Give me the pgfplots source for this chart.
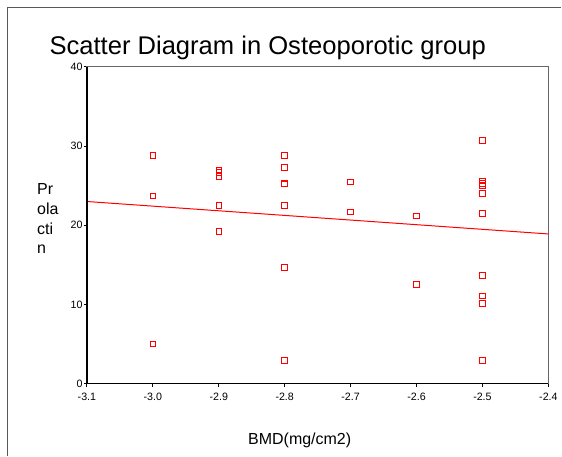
\documentclass[border=0pt]{standalone}
\usepackage{fontspec}
\setmainfont{Liberation Sans}
\usepackage{pgfplots}
\pgfplotsset{compat=1.18}
\definecolor{spssred}{HTML}{FF0000}

\begin{document}
\begin{tikzpicture}
% page = 562 x 457 px, 1 px = 0.75pt, origin top left
\begin{scope}[x=0.75pt,y=-0.75pt]
  \useasboundingbox (0,0) rectangle (562,457);
  \draw[black!65,line width=0.75pt] (8,457) -- (8,8) -- (562,8);
  \node[anchor=base,font=\fontsize{19.2}{22}\selectfont] at (268,55) {Scatter Diagram in Osteoporotic group};
  \node[anchor=north west,align=left,inner sep=0pt,font=\fontsize{12}{15}\selectfont] at (37,183) {Pr\\ola\\cti\\n};
  \node[anchor=base,font=\fontsize{12}{14}\selectfont] at (300,445) {BMD(mg/cm2)};
\end{scope}
\begin{axis}[at={(87*0.75pt,-384*0.75pt)},anchor=south west,
  scale only axis,width=462*0.75pt,height=317*0.75pt,
  xmin=-3.1,xmax=-2.4,ymin=0,ymax=40,
  xtick={-3.1,-3.0,...,-2.4},ytick={0,10,20,30,40},
  xticklabel style={/pgf/number format/fixed,/pgf/number format/fixed zerofill,/pgf/number format/precision=1},
  /pgf/number format/assume math mode=true,
  ticklabel style={font=\fontsize{8}{9}\selectfont},
  yticklabel style={inner sep=0.8pt},
  xticklabel style={yshift=-1pt},
  tick align=outside,xtick pos=bottom,ytick pos=left,
  major tick length=2.25pt,tick style={black,line width=0.8pt},
  axis line style={black!60,line width=0.75pt},
  clip=false]
  \addplot[color=spssred,only marks,mark=square,mark size=2.1pt,
    mark options={solid,line width=0.6pt}] coordinates {
    (-3.0,28.8)(-3.0,23.7)(-3.0,5.0)
    (-2.9,27.0)(-2.9,26.7)(-2.9,26.2)(-2.9,22.5)(-2.9,19.2)
    (-2.8,28.8)(-2.8,27.3)(-2.8,25.3)(-2.8,25.2)(-2.8,22.5)(-2.8,14.7)(-2.8,2.9)
    (-2.7,25.5)(-2.7,21.7)
    (-2.6,21.2)(-2.6,12.5)
    (-2.5,30.7)(-2.5,25.6)(-2.5,25.3)(-2.5,25.0)(-2.5,24.0)(-2.5,21.5)
    (-2.5,13.7)(-2.5,11.1)(-2.5,10.1)(-2.5,2.9)};
  % regression line
  \addplot[spssred,line width=0.75pt] coordinates {(-3.1,23.0)(-2.4,18.9)};
  % heavier left and bottom axis lines
  \draw[black,line width=1.1pt] (axis cs:-3.1,40) -- (axis cs:-3.1,0) -- (axis cs:-2.4,0);
\end{axis}
\end{tikzpicture}
\end{document}
